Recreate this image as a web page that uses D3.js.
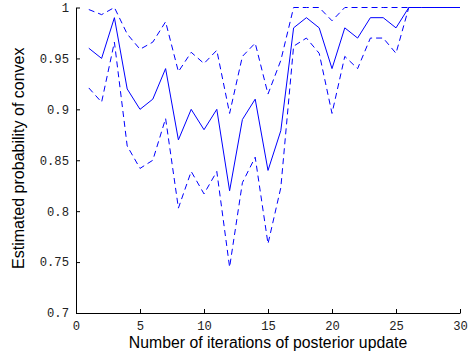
<!DOCTYPE html>
<html>
<head>
<meta charset="utf-8">
<script src="https://cdn.jsdelivr.net/npm/d3@7"></script>
<style>
  body { margin: 0; background: #fff; }
  svg { display: block; }
  .tick text { font-family: "Liberation Mono", "DejaVu Sans Mono", monospace; font-size: 12.2px; fill: #222; }
</style>
</head>
<body>
<div id="chart"></div>
<script>
// iterations of posterior update
const iterations = d3.range(1, 31);
// estimated probability (mean) and its upper / lower bounds
const meanProb = [0.96, 0.95, 0.99, 0.92, 0.90, 0.91, 0.94, 0.87, 0.90, 0.88,
                  0.90, 0.82, 0.89, 0.91, 0.84, 0.879, 0.98, 0.99, 0.98, 0.94,
                  0.98, 0.97, 0.99, 0.99, 0.98, 1, 1, 1, 1, 1];
const upperProb = [0.998, 0.993, 1.0, 0.974, 0.959, 0.966, 0.986, 0.937, 0.956, 0.945,
                   0.958, 0.896, 0.952, 0.965, 0.915, 0.948, 1, 1, 1, 0.987,
                   1, 1, 1, 1, 1, 1, 1, 1, 1, 1];
const lowerProb = [0.921, 0.907, 0.966, 0.864, 0.842, 0.85, 0.891, 0.803, 0.839, 0.817,
                   0.839, 0.745, 0.828, 0.853, 0.768, 0.823, 0.962, 0.970, 0.955, 0.896,
                   0.952, 0.94, 0.97, 0.97, 0.955, 1, 1, 1, 1, 1];
const xTicks = [0, 5, 10, 15, 20, 25, 30];
const yTicks = [0.7, 0.75, 0.8, 0.85, 0.9, 0.95, 1];

const width = 468, height = 354;
const margin = {top: 7.5, right: 8, bottom: 41, left: 76};

const svg = d3.select('#chart').append('svg')
  .attr('width', width)
  .attr('height', height);

const x = d3.scaleLinear().domain([0, 30]).range([margin.left, width - margin.right]);
const y = d3.scaleLinear().domain([0.7, 1]).range([height - margin.bottom, margin.top]);

// axes, ticks pointing inward like matlab
svg.append('g')
  .attr('transform', `translate(0,${height - margin.bottom})`)
  .call(d3.axisBottom(x).tickValues(xTicks).tickSizeInner(-4).tickSizeOuter(0).tickPadding(8)
    .tickFormat(d3.format('d')))
  .call(g => g.select('.domain').attr('stroke', '#000'));

svg.append('g')
  .attr('transform', `translate(${margin.left},0)`)
  .call(d3.axisLeft(y).tickValues(yTicks).tickSizeInner(-4).tickSizeOuter(0).tickPadding(7)
    .tickFormat(d => d === 1 ? '1' : String(+d.toFixed(2))))
  .call(g => g.select('.domain').attr('stroke', '#000'));

// axis labels
svg.append('text')
  .attr('x', (margin.left + width - margin.right) / 2)
  .attr('y', 348)
  .attr('text-anchor', 'middle')
  .style('font-family', '"Liberation Sans", Arial, sans-serif')
  .style('font-size', '15.8px')
  .text('Number of iterations of posterior update');

svg.append('text')
  .attr('transform', `translate(23.5,${(margin.top + height - margin.bottom) / 2 - 2}) rotate(-90)`)
  .attr('text-anchor', 'middle')
  .style('font-family', '"Liberation Sans", Arial, sans-serif')
  .style('font-size', '16px')
  .text('Estimated probability of convex');

// lines
const line = d3.line()
  .x((d, i) => x(iterations[i]))
  .y(d => y(d));

const series = [
  {values: meanProb, dash: null},
  {values: upperProb, dash: '6,4'},
  {values: lowerProb, dash: '6,4'}
];

svg.selectAll('.series')
  .data(series)
  .enter().append('path')
  .attr('class', 'series')
  .attr('d', d => line(d.values))
  .attr('fill', 'none')
  .attr('stroke', '#0000ff')
  .attr('stroke-width', 1)
  .attr('stroke-dasharray', d => d.dash);
</script>
</body>
</html>
